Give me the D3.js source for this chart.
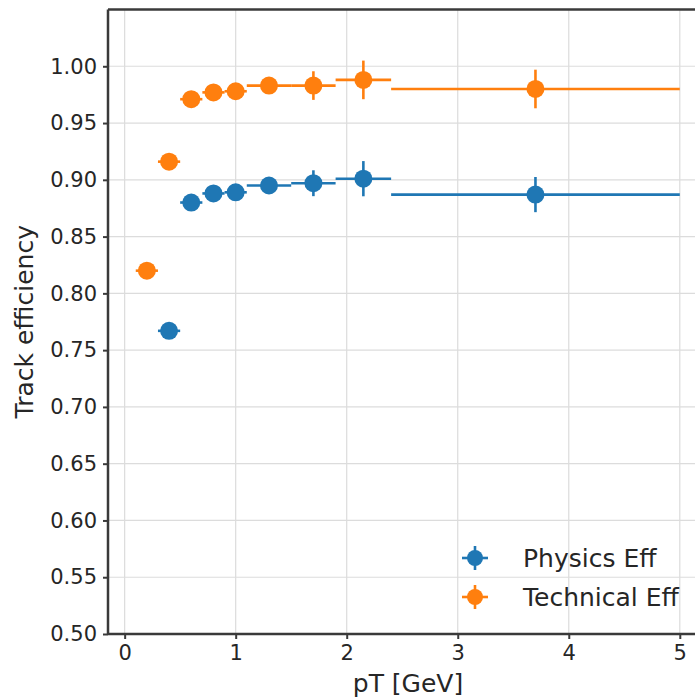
<!DOCTYPE html>
<html>
<head>
<meta charset="utf-8">
<script src="https://cdn.jsdelivr.net/npm/d3@7"></script>
<style>
  html, body { margin: 0; padding: 0; background: #fff; }
  svg { display: block; font-family: "DejaVu Sans", sans-serif; }
</style>
</head>
<body>
<svg id="chart" width="695" height="700"></svg>
<script>
// ---- data ----
const techX    = [0.2, 0.4, 0.6, 0.8, 1.0, 1.3, 1.7, 2.15, 3.7];
const techXlo  = [0.1, 0.3, 0.5, 0.7, 0.9, 1.1, 1.5, 1.9, 2.4];
const techXhi  = [0.3, 0.5, 0.7, 0.9, 1.1, 1.5, 1.9, 2.4, 5.0];
const techY    = [0.820, 0.916, 0.971, 0.977, 0.978, 0.983, 0.983, 0.988, 0.980];
const techYerr = [0.002, 0.003, 0.004, 0.005, 0.006, 0.007, 0.0126, 0.017, 0.017];

const physX    = [0.4, 0.6, 0.8, 1.0, 1.3, 1.7, 2.15, 3.7];
const physXlo  = [0.3, 0.5, 0.7, 0.9, 1.1, 1.5, 1.9, 2.4];
const physXhi  = [0.5, 0.7, 0.9, 1.1, 1.5, 1.9, 2.4, 5.0];
const physY    = [0.767, 0.880, 0.888, 0.889, 0.895, 0.897, 0.901, 0.887];
const physYerr = [0.004, 0.005, 0.006, 0.006, 0.007, 0.0114, 0.0155, 0.0155];

const xTicks = [0, 1, 2, 3, 4, 5];
const yTicks = [0.50, 0.55, 0.60, 0.65, 0.70, 0.75, 0.80, 0.85, 0.90, 0.95, 1.00];
const seriesNames = ["Physics Eff", "Technical Eff"];
const seriesColors = ["#1f77b4", "#ff7f0e"];
const xLimits = [-0.15, 5.2];
const yLimits = [0.5, 1.05];

// ---- layout ----
const svg = d3.select("#chart");
const pL = 108, pT = 9.5, pR = 702, pB = 634;
const x = d3.scaleLinear().domain(xLimits).range([pL, pR]);
const y = d3.scaleLinear().domain(yLimits).range([pB, pT]);
const textColor = "#262626";
const spineColor = "#3a3a3a";

// grid
const grid = svg.append("g");
grid.selectAll("line.gx").data(xTicks).join("line")
  .attr("x1", d => x(d)).attr("x2", d => x(d))
  .attr("y1", pT).attr("y2", pB)
  .attr("stroke", "#dcdcdc").attr("stroke-width", 1.2);
grid.selectAll("line.gy").data(yTicks).join("line")
  .attr("x1", pL).attr("x2", pR)
  .attr("y1", d => y(d)).attr("y2", d => y(d))
  .attr("stroke", "#dcdcdc").attr("stroke-width", 1.2);

// axes
const xAxis = d3.axisBottom(x).tickValues(xTicks).tickFormat(d3.format("d")).tickSize(5).tickPadding(6);
const yAxis = d3.axisLeft(y).tickValues(yTicks).tickFormat(d3.format(".2f")).tickSize(5).tickPadding(6);

const gx = svg.append("g").attr("transform", `translate(0,${pB})`).call(xAxis);
const gy = svg.append("g").attr("transform", `translate(${pL},0)`).call(yAxis);
[gx, gy].forEach(g => {
  g.select(".domain").remove();
  g.selectAll(".tick line").attr("stroke", spineColor).attr("stroke-width", 2);
  g.selectAll(".tick text").attr("fill", textColor)
    .style("font-family", "DejaVu Sans").style("font-size", "21px");
});

// spines
svg.append("line").attr("x1", pL).attr("x2", pL).attr("y1", pT).attr("y2", pB)
  .attr("stroke", spineColor).attr("stroke-width", 2.5);
svg.append("line").attr("x1", pL).attr("x2", pR).attr("y1", pB).attr("y2", pB)
  .attr("stroke", spineColor).attr("stroke-width", 2.5);
svg.append("line").attr("x1", pL).attr("x2", pR).attr("y1", pT).attr("y2", pT)
  .attr("stroke", spineColor).attr("stroke-width", 2.5);
svg.append("line").attr("x1", pR).attr("x2", pR).attr("y1", pT).attr("y2", pB)
  .attr("stroke", spineColor).attr("stroke-width", 2.5);

// series
function drawSeries(xs, xlo, xhi, ys, yerr, color) {
  const g = svg.append("g");
  const pts = xs.map((d, i) => ({x: d, lo: xlo[i], hi: xhi[i], y: ys[i], e: yerr[i]}));
  g.selectAll("line.h").data(pts).join("line")
    .attr("x1", d => x(d.lo)).attr("x2", d => x(d.hi))
    .attr("y1", d => y(d.y)).attr("y2", d => y(d.y))
    .attr("stroke", color).attr("stroke-width", 2.6);
  g.selectAll("line.v").data(pts).join("line")
    .attr("x1", d => x(d.x)).attr("x2", d => x(d.x))
    .attr("y1", d => y(d.y - d.e)).attr("y2", d => y(d.y + d.e))
    .attr("stroke", color).attr("stroke-width", 2.6);
  g.selectAll("circle").data(pts).join("circle")
    .attr("cx", d => x(d.x)).attr("cy", d => y(d.y)).attr("r", 9)
    .attr("fill", color);
}
drawSeries(physX, physXlo, physXhi, physY, physYerr, seriesColors[0]);
drawSeries(techX, techXlo, techXhi, techY, techYerr, seriesColors[1]);

// legend
const legend = svg.append("g");
seriesNames.forEach((name, i) => {
  const ly = 558 + i * 39, lx = 475;
  legend.append("line").attr("x1", lx - 13).attr("x2", lx + 13).attr("y1", ly).attr("y2", ly)
    .attr("stroke", seriesColors[i]).attr("stroke-width", 2.6);
  legend.append("line").attr("x1", lx).attr("x2", lx).attr("y1", ly - 12).attr("y2", ly + 12)
    .attr("stroke", seriesColors[i]).attr("stroke-width", 2.6);
  legend.append("circle").attr("cx", lx).attr("cy", ly).attr("r", 8).attr("fill", seriesColors[i]);
  legend.append("text").attr("x", 523).attr("y", ly).attr("dy", "0.35em")
    .attr("fill", textColor).style("font-size", "25px").text(name);
});

// axis labels
svg.append("text").attr("x", 408).attr("y", 692).attr("text-anchor", "middle")
  .attr("fill", textColor).style("font-size", "25px").text("pT [GeV]");
svg.append("text")
  .attr("transform", `translate(33,${(pT + pB) / 2}) rotate(-90)`)
  .attr("text-anchor", "middle")
  .attr("fill", textColor).style("font-size", "25px").text("Track efficiency");
</script>
</body>
</html>
